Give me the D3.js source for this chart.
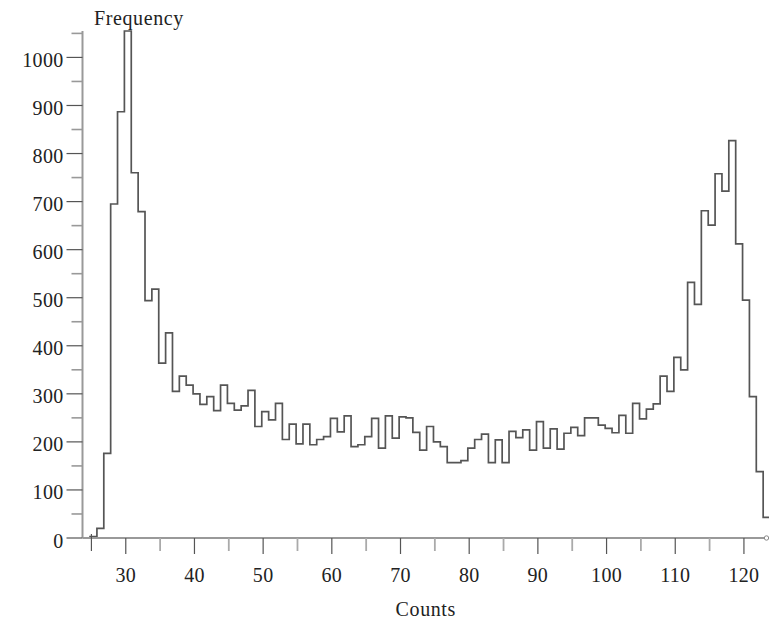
<!DOCTYPE html>
<html>
<head>
<meta charset="utf-8">
<script src="https://cdn.jsdelivr.net/npm/d3@7"></script>
<style>
  html, body { margin: 0; padding: 0; background: #fff; }
  svg { display: block; }
  text { font-family: "Liberation Serif", "DejaVu Serif", serif; fill: #222; }
</style>
</head>
<body>
<div id="chart"></div>
<script>
// histogram of counts, one bin per unit, first bin starts at 24.8
var firstBinEdge = 24.8;
var binWidth = 1;
var frequency = [
  3, 20, 176, 695, 887, 1055, 760, 679, 494, 518,          // 25-34
  364, 427, 305, 337, 318, 300, 278, 294, 265, 318,        // 35-44
  280, 266, 275, 307, 232, 263, 246, 280, 205, 237,        // 45-54
  196, 237, 194, 205, 211, 249, 221, 254, 190, 194,        // 55-64
  211, 249, 187, 254, 208, 252, 250, 220, 183, 232,        // 65-74
  200, 190, 157, 157, 161, 187, 205, 216, 157, 204,        // 75-84
  157, 222, 209, 225, 183, 242, 187, 227, 185, 218,        // 85-94
  230, 213, 250, 250, 235, 228, 219, 255, 218, 280,        // 95-104
  248, 268, 279, 337, 305, 376, 350, 532, 486, 681,        // 105-114
  651, 758, 722, 827, 612, 495, 294, 138, 43               // 115-123
];

var xTickValues = [25, 30, 35, 40, 45, 50, 55, 60, 65, 70, 75, 80, 85, 90, 95, 100, 105, 110, 115, 120];
var xLabelValues = [30, 40, 50, 60, 70, 80, 90, 100, 110, 120];
var yTickValues = [0, 50, 100, 150, 200, 250, 300, 350, 400, 450, 500, 550, 600, 650, 700, 750, 800, 850, 900, 950, 1000, 1050];
var yLabelValues = [0, 100, 200, 300, 400, 500, 600, 700, 800, 900, 1000];

var width = 769;
var height = 619;
var axisX = 82.5;   // where the frequency axis sits
var axisY = 538;    // where the counts axis sits

var x = d3.scaleLinear().domain([23.7, 123.65]).range([axisX, width]);
var y = d3.scaleLinear().domain([0, 1055]).range([axisY, 31]);

var svg = d3.select('#chart')
  .append('svg')
  .attr('width', width)
  .attr('height', height);

// histogram outline (step after)
var pts = [[firstBinEdge, 0]];
frequency.forEach(function (d, i) { pts.push([firstBinEdge + i * binWidth, d]); });
pts.push([firstBinEdge + frequency.length * binWidth, frequency[frequency.length - 1]]);

var line = d3.line()
  .x(function (d) { return x(d[0]); })
  .y(function (d) { return y(d[1]); })
  .curve(d3.curveStepAfter);

svg.append('path')
  .attr('d', line(pts))
  .attr('fill', 'none')
  .attr('stroke', '#555')
  .attr('stroke-width', 1.7);

// y axis
var gy = svg.append('g').attr('class', 'yAxis');
gy.append('line')
  .attr('x1', axisX).attr('x2', axisX)
  .attr('y1', y(0)).attr('y2', y(1055))
  .attr('stroke', '#999').attr('stroke-width', 2);
gy.selectAll('.ytick')
  .data(yTickValues)
  .enter().append('line')
  .attr('class', 'ytick')
  .attr('x1', function (d) { return d % 100 === 0 ? axisX - 16 : axisX - 11; })
  .attr('x2', axisX)
  .attr('y1', function (d) { return y(d); })
  .attr('y2', function (d) { return y(d); })
  .attr('stroke', function (d) { return d % 100 === 0 ? '#555' : '#999'; })
  .attr('stroke-width', function (d) { return d % 100 === 0 ? 1.2 : 1.6; });
gy.selectAll('.ylabel')
  .data(yLabelValues)
  .enter().append('text')
  .attr('class', 'ylabel')
  .attr('x', axisX - 19)
  .attr('y', function (d) { return y(d) + 9.5; })
  .attr('text-anchor', 'end')
  .attr('font-size', 20)
  .attr('letter-spacing', 0.3)
  .text(function (d) { return d; });

// x axis
var gx = svg.append('g').attr('class', 'xAxis');
gx.append('line')
  .attr('x1', axisX).attr('x2', width)
  .attr('y1', axisY).attr('y2', axisY)
  .attr('stroke', '#999').attr('stroke-width', 2);
gx.selectAll('.xtick')
  .data(xTickValues)
  .enter().append('line')
  .attr('class', 'xtick')
  .attr('x1', function (d) { return x(d); })
  .attr('x2', function (d) { return x(d); })
  .attr('y1', function (d) { return d === 25 ? axisY - 4 : axisY; })
  .attr('y2', function (d) { return d % 10 === 0 ? axisY + 16 : axisY + 13; })
  .attr('stroke', function (d) { return d % 10 === 0 || d === 25 ? '#555' : '#aaa'; })
  .attr('stroke-width', function (d) { return d % 10 === 0 || d === 25 ? 1.2 : 1.8; });
gx.selectAll('.xlabel')
  .data(xLabelValues)
  .enter().append('text')
  .attr('class', 'xlabel')
  .attr('x', function (d) { return x(d); })
  .attr('y', axisY + 43.5)
  .attr('text-anchor', 'middle')
  .attr('font-size', 20)
  .attr('letter-spacing', 0.3)
  .text(function (d) { return d; });

// small end marker on the counts axis
gx.append('circle')
  .attr('cx', width - 2.5).attr('cy', axisY)
  .attr('r', 2.2)
  .attr('fill', '#fff').attr('stroke', '#888').attr('stroke-width', 1);

// axis titles
svg.append('text')
  .attr('x', 94)
  .attr('y', 25)
  .attr('font-size', 20)
  .attr('letter-spacing', 0.6)
  .text('Frequency');

svg.append('text')
  .attr('x', (axisX + width) / 2)
  .attr('y', 616)
  .attr('text-anchor', 'middle')
  .attr('font-size', 20)
  .attr('letter-spacing', 0.6)
  .text('Counts');
</script>
</body>
</html>
